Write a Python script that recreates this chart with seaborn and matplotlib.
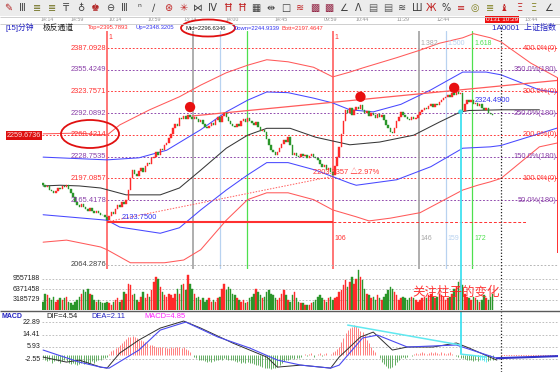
import numpy as np
import pandas as pd
import matplotlib
matplotlib.use("Agg")
import matplotlib.pyplot as plt
import matplotlib.transforms as mtrans
from matplotlib.patches import Ellipse, Rectangle
import seaborn as sns

# ---------------------------------------------------------------------------------
# values: 15 min bars, bar 0 = the 2133.75 low
# ---------------------------------------------------------------------------------
first_bar = -30

closes = [2188, 2184, 2186, 2180, 2178, 2176, 2179, 2183, 2181, 2186,
          2185, 2188, 2182, 2176, 2170, 2163, 2158, 2155, 2160, 2156,
          2152, 2150, 2154, 2149, 2147, 2150, 2146, 2144, 2143, 2141,
          2137, 2142, 2148, 2145, 2152, 2158, 2155, 2162, 2160, 2166,
          2180, 2198, 2209, 2204, 2200, 2208, 2212, 2206, 2215, 2220,
          2218, 2226, 2228, 2235, 2231, 2240, 2238, 2245, 2248, 2256,
          2262, 2270, 2277, 2274, 2285, 2283, 2288, 2284, 2290, 2287,
          2284, 2287, 2283, 2279, 2282, 2276, 2272, 2270, 2274, 2278,
          2275, 2282, 2286, 2279, 2288, 2292, 2286, 2280, 2276, 2274,
          2272, 2276, 2274, 2280, 2283, 2279, 2285, 2281, 2278, 2275,
          2279, 2272, 2266, 2268, 2265, 2255, 2246, 2238, 2236, 2231,
          2236, 2242, 2247, 2253, 2250, 2257, 2246, 2231, 2234, 2230,
          2228, 2232, 2229, 2231, 2226, 2230, 2233, 2228, 2227, 2224,
          2218, 2213, 2216, 2209, 2212, 2206, 2202, 2215, 2228, 2243,
          2262, 2280, 2297, 2293, 2299, 2289, 2296, 2301, 2298, 2304,
          2296, 2292, 2295, 2288, 2292, 2290, 2285, 2291, 2287, 2290,
          2282, 2275, 2270, 2265, 2263, 2270, 2280, 2287, 2294, 2290,
          2286, 2284, 2282, 2287, 2284, 2285, 2290, 2294, 2297, 2300,
          2298, 2302, 2305, 2301, 2306, 2304, 2308, 2311, 2314, 2316,
          2318, 2315, 2321, 2319, 2323, 2320, 2321, 2295, 2305, 2311,
          2308, 2312, 2306, 2307, 2303, 2305, 2300, 2297, 2299, 2293, 2291, 2289]
first_open = 2190

# volume in millions
volumes = [2.5, 5.0, 4.5, 3.5, 3.0, 4.0, 2.5, 3.0, 3.5, 3.0,
           3.5, 4.0, 2.5, 2.0, 1.5, 2.5, 3.0, 4.0, 5.0, 6.0,
           5.5, 6.5, 5.0, 4.5, 3.0, 2.5, 3.0, 2.5, 2.0, 2.0,
           2.5, 2.0, 1.5, 2.5, 3.0, 3.5, 2.5, 3.0, 5.5, 5.0,
           8.0, 7.5, 4.5, 5.0, 3.0, 2.5, 4.0, 5.5, 3.5, 5.0,
           4.0, 6.0, 8.5, 10.0, 9.5, 7.0, 5.5, 4.5, 4.0, 5.0,
           4.5, 3.5, 5.0, 6.5, 5.0, 7.5, 8.0, 6.0, 10.5, 8.0,
           6.5, 5.0, 3.5, 4.0, 3.0, 3.5, 2.5, 3.0, 3.5, 2.5,
           3.0, 2.5, 3.5, 4.0, 6.5, 8.0, 6.0, 7.0, 6.5, 5.0,
           4.5, 3.5, 3.0, 2.5, 3.0, 2.0, 2.5, 3.5, 4.0, 5.0,
           6.5, 5.5, 4.5, 3.5, 4.0, 5.5, 6.0, 5.0, 4.5, 3.5,
           3.0, 3.5, 5.0, 6.0, 4.5, 3.0, 2.5, 4.5, 5.5, 3.5,
           2.5, 2.0, 2.0, 1.5, 1.5, 1.5, 2.0, 2.5, 3.0, 4.0,
           4.5, 3.5, 3.0, 2.5, 3.5, 4.0, 3.0, 3.5, 4.0, 5.5,
           6.0, 7.5, 9.0, 7.0, 8.5, 10.0, 8.0, 9.5, 12.0, 10.0,
           9.0, 6.5, 5.0, 4.5, 3.5, 4.0, 3.0, 4.5, 3.5, 3.0,
           4.0, 5.0, 6.0, 7.0, 6.5, 5.5, 4.5, 3.0, 3.5, 4.0,
           3.5, 3.0, 3.5, 4.0, 3.5, 3.0, 2.5, 3.0, 3.5, 4.0,
           3.5, 4.5, 5.0, 4.0, 3.5, 4.0, 5.0, 4.5, 4.0, 3.0,
           3.5, 4.0, 5.0, 6.5, 7.0, 8.5, 9.0, 7.5, 5.0, 4.0,
           3.5, 3.0, 4.0, 3.5, 3.0, 2.5, 3.0, 4.5, 3.5, 3.0, 4.0, 5.0]

macd_hist = [-2, -3, -4, -3, -5, -4, -3, -4, -5, -4,
             -3, -4, -5, -6, -5, -6, -7, -6, -5, -6,
             -5, -6, -5, -4, -5, -4, -3, -3, -2, -2,
             -1, 1, 3, 4, 5, 6, 7.5, 8.5, 10, 11.5,
             12.5, 13, 13.5, 13, 12, 11, 10.5, 10, 9.5, 8.5,
             7.5, 7, 6.5, 6, 6, 5.5, 6, 5.5, 5, 5,
             5.5, 5, 6, 6, 5.5, 5, 5.5, 4.5, 3.5, 2,
             0.5, -1, -2, -3, -3, -3.5, -4, -4.5, -4, -4.5,
             -4, -3.5, -3, -2.5, -3, -2, -2.5, -3, -3, -3.5,
             -4, -4.5, -4, -5, -4.5, -5, -4.5, -5, -5.5, -6,
             -6.5, -7, -7.5, -8, -8.5, -9, -9, -9.5, -9, -8.5,
             -8, -7, -5.5, -4, -3, -3, -2.5, -2, -2.5, -2,
             -1.5, -1, 0.5, 1, -0.5, 1, 1.5, -1, 0.5, 1,
             1.5, -0.5, 1, 1.5, 0.5, 1, 2, 3, 4.5, 6,
             9, 12, 15.5, 17.5, 19, 20, 21, 20.5, 19, 17,
             16.5, 14, 11, 8.5, 6, 4, 2.5, 0.5, -2, -4.5,
             -6, -7.5, -8.5, -9, -8, -6.5, -4.5, -3, -2, -1,
             -1.5, -1, 0.5, -0.5, 1, 1.5, 1, 1.5, 2, 1.5,
             1, 1.5, 2, 1.5, 2, 1.5, 1, 2, 1.5, 1,
             1.5, 2, 1, 0.5, -0.5, -1, -1.5, -2, -2.5, -3,
             -3.5, -3, -4, -3.5, -4, -3.5, -3, -4, -4.5, -4, -3.5, -3]
cyan_hist_bars = [175, 176, 177, 178]

# channel lines (bar, price)
mid_bar = [-30, -22, -13, -3, 9, 25, 34, 44, 56, 66, 75, 86, 98, 114, 128, 144, 156, 166, 170, 185, 203]
mid_p = [2186, 2187, 2186, 2183, 2173, 2173, 2183, 2209, 2241, 2260, 2270, 2270, 2257, 2246, 2250, 2260, 2279, 2294, 2296, 2297, 2297]
up_bar = [-30, 0, 15, 28, 44, 56, 66, 75, 85, 97, 106, 114, 125, 138, 152, 167, 178, 185, 203, 212]
up_p = [2228, 2224, 2227, 2238, 2268, 2294, 2311, 2323, 2322, 2314, 2307, 2297, 2294, 2305, 2326, 2352, 2352, 2348, 2326, 2322]
down_bar = [-30, 0, 6, 25, 34, 44, 56, 66, 75, 85, 98, 114, 117, 136, 152, 167, 180, 185, 212]
down_p = [2144, 2136, 2126, 2117, 2125, 2151, 2180, 2202, 2220, 2220, 2209, 2190, 2187, 2195, 2214, 2241, 2243, 2245, 2271]
top_bar = [-30, -13, 0, 6, 20, 34, 44, 56, 66, 75, 85, 97, 106, 114, 120, 136, 147, 156, 167, 172, 180, 185, 189, 199, 212]
top_p = [2262, 2263, 2260, 2275, 2297, 2316, 2333, 2351, 2362, 2370, 2367, 2359, 2345, 2352, 2358, 2373, 2384, 2394, 2402, 2408, 2402, 2396, 2387, 2365, 2343]
bott_bar = [-30, -19, -3, 0, 11, 27, 36, 44, 56, 66, 75, 85, 97, 106, 117, 123, 133, 147, 167, 174, 180, 185, 194, 203, 212]
bott_p = [2104, 2107, 2097, 2093, 2074, 2074, 2078, 2093, 2136, 2166, 2176, 2176, 2166, 2151, 2141, 2135, 2139, 2147, 2180, 2187, 2192, 2197, 2220, 2243, 2249]

trend_hi_bar = [40, 212]
trend_hi_p = [2288, 2340]
trend_lo_bar = [0, 106]
trend_lo_p = [2133.75, 2200]
low_price = 2133.75

levels = [2387.0928, 2355.4249, 2323.7571, 2292.0892, 2260.4214, 2228.7535, 2197.0857, 2165.4178]
level_pct = ["400.0%(0)", "350.0%(180)", "300.0%(0)", "250.0%(180)",
             "200.0%(0)", "150.0%(180)", "100.0%(0)", "50.0%(180)"]

fib_bars = [0, 40.5, 53, 65.5, 106, 146.5, 159, 171.5]
fib_top = ["1", "", "", "", "1", "1.382", "1.500", "1.618"]
fib_bottom = ["", "", "", "", "106", "146", "159", "172"]
fib_colors = ["#ff6a6a", "#a8a8a8", "#b8d2f0", "#4ee04e", "#ff6a6a", "#a8a8a8", "#b8d2f0", "#4ee04e"]

dot_bar = [39, 119, 163]
dot_p = [2301, 2316, 2329]

time_bar = [-28, -14, 4, 22, 39, 59, 82, 105, 120, 139, 158, 199]
time_labels = ["14:14", "14:59", "10:14", "10:59", "13:14", "14:00", "14:45",
               "09:59", "10:44", "11:29", "12:44", "13:44"]
cursor_bar = 185

header = ["Top=2395.7893", "Up=2348.3205", "Mid=2296.6346", "Down=2244.9339", "Bott=2197.4647"]

vol_ticks = [9557188, 6371458, 3185729]
macd_ticks = [22.89, 14.41, 5.93, -2.55]

dif_bar = [-30, -19, -13, -3, 0, 6, 15, 25, 36, 44, 59, 75, 80, 91, 105, 109, 119, 125, 134, 141, 153, 164, 170, 183]
dif_v = [-1.2, -4.7, -3.3, -8.2, -8.9, 1.6, 10.7, 19, 23.9, 19, 8.6, -1.2, -8.2, -6.8, -8.9, -1.2, 12.8, 16.2, 3.7, 5.8, 5.8, 8.6, 5.1, -3.3]
dea_bar = [-30, -13, -3, 1, 15, 25, 37, 52, 67, 80, 91, 105, 109, 120, 127, 141, 164, 183]
dea_v = [3.7, -4.7, -8.2, -8.9, 3.7, 17.6, 23.2, 12.8, 5.1, -3.3, -6.8, -8.9, -6.8, 12.1, 14.1, 5.8, 7.2, -2.0]
dea_tail_bar = [183, 199, 212]
dea_tail_v = [-2.0, -1.2, -0.5]

# ---------------------------------------------------------------------------------
sns.set_theme(style="white")
plt.rcParams['font.family'] = ['Liberation Sans', 'Noto Sans CJK SC', 'DejaVu Sans']

RED = "#ff3030"
PURPLE = "#8a3fa8"
BLUE = "#3434f0"
GREEN_C = "#2a962a"
RED_C = "#ff2a2a"

bars = np.arange(first_bar, first_bar + len(closes))
df = pd.DataFrame({"bar": bars, "close": closes, "vol": volumes, "hist": macd_hist})
df["open"] = df["close"].shift(1).fillna(first_open)
df["up"] = df["close"] >= df["open"]

fig = plt.figure(figsize=(5.6, 3.72), dpi=100)
W, H = 560.0, 372.0
L, R = 42, 558
x_left = (L - 107) / 2.13
x_right = (R - 107) / 2.13


def panel(top, bottom):
    return fig.add_axes([L / W, 1 - bottom / H, (R - L) / W, (bottom - top) / H])


ax = panel(31, 269.4)
axv = panel(269.4, 310)
axm = panel(312, 372)
for a in (ax, axv, axm):
    a.set_xlim(x_left, x_right)
    a.set_axis_off()
ax.set_ylim(2064.3, 2411.9)
axv.set_ylim(0, 12.32)
axm.set_ylim(-11.6, 30.2)

dash = (0, (2, 2))
LW = 0.75

# --- main panel -----------------------------------------------------------------
lvl_cols = [RED if k % 2 == 0 else PURPLE for k in range(len(levels))]
ax.hlines(levels, 0, x_right, colors=lvl_cols, linestyles=dash, lw=0.65, zorder=1)
for lv, c, pct in zip(levels, lvl_cols, level_pct):
    ax.text(-0.3, lv, f"{lv:.4f}", color=c, fontsize=5.4, ha="right", va="center", zorder=7)
    ax.text(x_right - 0.5, lv, pct, color=c, fontsize=5.4, ha="right", va="center", zorder=7)
ax.hlines(2070, 0, x_right, colors="#b0b0b0", linestyles=dash, lw=0.65)
ax.text(-0.3, 2072, "2064.2876", color="#404040", fontsize=5.4, ha="right", va="center")
ax.hlines(2259.6736, x_left, 0, colors=RED, linestyles=dash, lw=0.65)
ax.text(-31, 2259.6736, "2259.6736", color="#ffd8d8", fontsize=5.2, ha="right", va="center",
        clip_on=False, bbox=dict(facecolor="#dd1010", edgecolor="none", pad=0.8))

for b, c in zip(fib_bars, fib_colors):
    ax.axvline(b, color=c, lw=1.3 if c in ("#ff6a6a", "#a8a8a8") else 0.9, zorder=1)
for b, c, t1, t2 in zip(fib_bars, fib_colors, fib_top, fib_bottom):
    if t1:
        y1 = 2401.7 if t1 == "1" else 2393
        ax.text(b + 0.8, y1, t1, color="#ff3030" if t1 == "1" else c, fontsize=5, va="center")
    if t2:
        ax.text(b + 0.8, 2110, t2, color="#ff3030" if t2 == "106" else c, fontsize=5, va="center")

sns.lineplot(x=top_bar, y=top_p, ax=ax, color="#ff5a5a", lw=LW, zorder=2)
sns.lineplot(x=bott_bar, y=bott_p, ax=ax, color="#ff5a5a", lw=LW, zorder=2)
sns.lineplot(x=up_bar, y=up_p, ax=ax, color="#4848ff", lw=LW, zorder=2)
sns.lineplot(x=down_bar, y=down_p, ax=ax, color="#4848ff", lw=LW, zorder=2)
sns.lineplot(x=mid_bar, y=mid_p, ax=ax, color="#383838", lw=LW, zorder=2)
sns.lineplot(x=trend_hi_bar, y=trend_hi_p, ax=ax, color="#ff5a5a", lw=0.9, zorder=2)
ax.plot(trend_lo_bar, trend_lo_p, color="#ff5a5a", lw=0.7, ls=(0, (1.5, 1.5)), zorder=2)
ax.hlines(low_price, 0, 106, colors=RED, lw=1.5, zorder=2)
ax.hlines(low_price, 106, 197, colors=RED, lw=0.7, linestyles=(0, (3, 2)), zorder=2)
ax.vlines(x_right - 0.1, 2088, 2343, colors=RED, lw=1.4)

# candles
body = (df["close"] - df["open"]).to_numpy(dtype=float)
ccol = np.where(df["up"], RED_C, GREEN_C)
ax.bar(df["bar"], body, bottom=df["open"], width=0.7, color=ccol, edgecolor=ccol, lw=0.3, zorder=4)

sns.scatterplot(x=dot_bar, y=dot_p, ax=ax, s=55, color="#e81010", edgecolor="none", zorder=6)
sns.scatterplot(x=[166], y=[2294], ax=ax, s=12, color="#40e0f0", edgecolor="none", zorder=6)
ax.vlines(166, 2064.3, 2294, colors="#40e0f0", lw=1.3, zorder=3)

ax.text(7, 2135.5, "2133.7500", color=BLUE, fontsize=5.4, va="bottom", zorder=7)
ax.text(96.5, 2205, "2203.3357 △2.97%", color=RED, fontsize=5.4, va="center", zorder=7)
ax.text(172.5, 2311, "2324.4900", color=BLUE, fontsize=5.4, va="center", zorder=7)

ax.axvline(cursor_bar, ymin=0, ymax=1.055, color="#202020", lw=0.9, ls=(0, (1, 1.5)), clip_on=False)

# time row above the panel
tr = mtrans.blended_transform_factory(ax.transData, ax.transAxes)
for b, t in zip(time_bar, time_labels):
    ax.text(b, 1.047, t, transform=tr, fontsize=3.8, color="#909090", ha="center", va="center", clip_on=False)
ax.text(cursor_bar + 0.5, 1.047, "0131 10:29", transform=tr, fontsize=4.6, color="white", ha="center",
        va="center", clip_on=False, bbox=dict(facecolor="#f01010", edgecolor="none", pad=0.6))

# --- volume ---------------------------------------------------------------------
vcol = np.where(df["up"], RED_C, GREEN_C)
axv.bar(df["bar"], df["vol"], width=0.7, color=vcol, edgecolor=vcol, lw=0.3, zorder=2)
vt = [v / 1e6 for v in vol_ticks]
axv.hlines(vt, x_left, x_right, colors="#b4b4b4", linestyles=dash, lw=0.6, zorder=1)
for v, lab in zip(vt, vol_ticks):
    axv.text(-31.3, v, str(lab), fontsize=5.0, color="#202020", ha="right", va="center", clip_on=False)
axv.axvline(166, color="#40e0f0", lw=1.3, zorder=3)
axv.axvline(cursor_bar, color="#202020", lw=0.9, ls=(0, (1, 1.5)))
axv.text(143.5, 5.5, "关注柱子的变化", fontsize=9, color="#ff2020", alpha=0.9, ha="left", va="center",
         family=["Noto Sans CJK SC", "DejaVu Sans"], zorder=5)

# --- MACD -----------------------------------------------------------------------
axm.hlines(macd_ticks, x_left, x_right, colors="#b4b4b4", linestyles=dash, lw=0.6, zorder=1)
for v in macd_ticks:
    axm.text(-31.3, v, f"{v:.2f}", fontsize=5.0, color="#202020", ha="right", va="center", clip_on=False)
hcol = np.where(df["hist"] > 0, "#ff6a6a", "#4aa04a")
hcol = np.where(df["bar"].isin(cyan_hist_bars), "#40e8f0", hcol)
axm.vlines(df["bar"], 0, df["hist"], colors=hcol, lw=0.6, zorder=2)
axm.hlines(0, cursor_bar, x_right, colors="#ff6a6a", linestyles=(0, (1, 1.5)), lw=0.7)
sns.lineplot(x=dif_bar, y=dif_v, ax=axm, color="#303030", lw=0.7, zorder=3)
sns.lineplot(x=dea_bar, y=dea_v, ax=axm, color="#4a4af0", lw=0.8, zorder=3)
sns.lineplot(x=dea_tail_bar, y=dea_tail_v, ax=axm, color="#3232c8", lw=1.5, zorder=3)
axm.plot([113, 166], [21.1, 7.2], color="#60e8f0", lw=1.1, zorder=4)
axm.plot([166, 178], [0.9, -1.2], color="#60e8f0", lw=1.1, zorder=4)
axm.vlines(166, 0.9, 30.2, colors="#40e0f0", lw=1.3, zorder=3)
axm.axvline(cursor_bar, color="#202020", lw=0.9, ls=(0, (1, 1.5)))

# --- frame, toolbar and header text (pixel coordinates) -------------------------
ov = fig.add_axes([0, 0, 1, 1])
ov.set_xlim(0, W)
ov.set_ylim(H, 0)
ov.set_axis_off()
ov.patch.set_alpha(0)
ov.add_patch(Rectangle((0, 0), W, 16, facecolor="#ececec", edgecolor="none"))
ov.hlines([16.5, 23.8], 0, W, colors="#c8c8c8", lw=0.6)
ov.hlines(310.8, 0, W, colors="#5a5a5a", lw=1.0)
icons = ["✎", "Ⅲ", "≣", "≣", "₸", "♁", "♚", "⊖", "Ⅲ", "ⁿ", "∕", "⊛", "✳", "⋈", "Ⅳ", "Ħ", "Ħ", "▦", "⇹",
         "□", "≋", "▩", "▩", "∠", "Λ", "▤", "▤", "≋", "Ш", "Ж", "%", "≡", "◎", "≣", "♝", "Ξ", "Ξ", "∠"]
icon_cols = ["#b02020", "#404040", "#707020", "#707020", "#404040", "#404040", "#b02020", "#404040", "#404040",
             "#404040", "#404040", "#c02020", "#c02020", "#404040", "#404040", "#c02020", "#c02020", "#404040",
             "#404040", "#404040", "#c02020", "#902040", "#902040", "#404040", "#404040", "#606060", "#606060",
             "#404040", "#404040", "#c02020", "#404040", "#c02020", "#808020", "#808020", "#c02020", "#c02020",
             "#808020", "#404040"]
for k, (g, c) in enumerate(zip(icons, icon_cols)):
    ov.text(8 + k * 14.6, 8, g, fontsize=7, color=c, ha="center", va="center", family=["DejaVu Sans"])

ov.text(5, 28, "[15]分钟", fontsize=5.6, color="#2020c0", va="center")
ov.text(43, 28, "极反通道", fontsize=5.6, color="#202020", va="center")
head_x = [88, 136, 185, 233, 281]
head_c = [RED, BLUE, "#202020", BLUE, RED]
for hx, hc, ht in zip(head_x, head_c, header):
    ov.text(hx, 28, ht, fontsize=4.2, color=hc, va="center")
ov.text(556, 28, "1A0001  上证指数", fontsize=5.8, color="#2020c0", ha="right", va="center")
ov.add_patch(Ellipse((208, 28), 54, 17, fill=False, edgecolor="#e01010", lw=1.3))
ov.add_patch(Ellipse((90, 134), 58, 28, fill=False, edgecolor="#e01010", lw=1.3))

ov.text(2, 316, "MACD", fontsize=5.0, color="#2020c0", weight="bold", va="center")
ov.text(46, 316, "DIF=4.54", fontsize=5.4, color="#202020", va="center")
ov.text(91, 316, "DEA=2.11", fontsize=5.4, color="#2020c0", va="center")
ov.text(144, 316, "MACD=4.85", fontsize=5.4, color="#ff20ff", va="center")

fig.savefig("out.png", dpi=100)
